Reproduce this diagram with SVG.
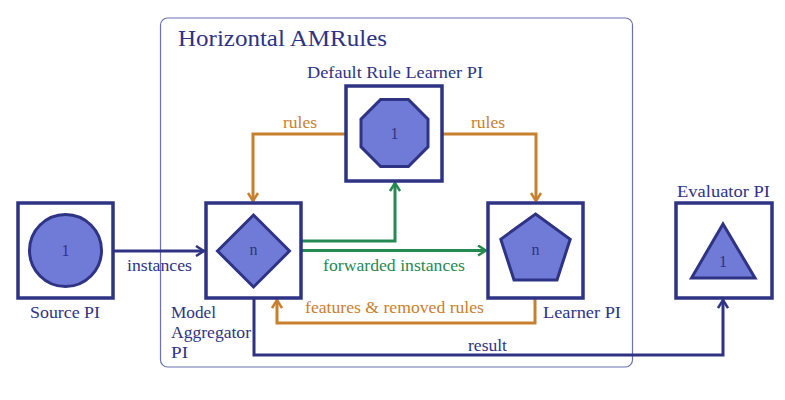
<svg xmlns="http://www.w3.org/2000/svg" width="785" height="400" viewBox="0 0 785 400" font-family="'Liberation Serif','DejaVu Serif',serif">
<defs>
<style>
.box{fill:#fff;stroke:#2e3384;stroke-width:3.5}
.shape{fill:#6f7bd6;stroke:#2e3384;stroke-width:3;stroke-linejoin:miter}
.t{font-family:'Liberation Serif','DejaVu Serif',serif;fill:#2e3384}
.lbl{font-size:17px}
.inner{font-size:16px;text-anchor:middle;dominant-baseline:central}
.c{fill:none;stroke-width:3;stroke-linejoin:miter}
.navy{stroke:#2e3384}
.org{stroke:#c8802f}
.grn{stroke:#258a52}
.to{fill:#c8802f}
.tg{fill:#258a52}
</style>
<marker id="an" viewBox="0 0 10 12" refX="9" refY="6" markerWidth="10" markerHeight="12" markerUnits="userSpaceOnUse" orient="auto">
<path d="M1,1 L9,6 L1,11" fill="none" stroke="#2e3384" stroke-width="2.5"/>
</marker>
<marker id="ao" viewBox="0 0 10 12" refX="9" refY="6" markerWidth="10" markerHeight="12" markerUnits="userSpaceOnUse" orient="auto">
<path d="M1,1 L9,6 L1,11" fill="none" stroke="#c8802f" stroke-width="2.5"/>
</marker>
<marker id="ag" viewBox="0 0 10 12" refX="9" refY="6" markerWidth="10" markerHeight="12" markerUnits="userSpaceOnUse" orient="auto">
<path d="M1,1 L9,6 L1,11" fill="none" stroke="#258a52" stroke-width="2.5"/>
</marker>
</defs>
<rect width="785" height="400" fill="#fff"/>

<g id="container">
<rect x="160.5" y="18" width="472" height="349" rx="7" fill="none" stroke="#6b70b0" stroke-width="1.2"/>
<text class="t" x="178" y="46" font-size="24" textLength="209" lengthAdjust="spacingAndGlyphs">Horizontal AMRules</text>
</g>

<g id="connectors">
<path class="c navy" d="M113,251 H204" marker-end="url(#an)"/>
<text class="t lbl" x="127" y="271" textLength="65" lengthAdjust="spacingAndGlyphs">instances</text>
<path class="c org" d="M346,134 H253 V201" marker-end="url(#ao)"/>
<text class="t lbl to" x="283" y="128" textLength="34" lengthAdjust="spacingAndGlyphs">rules</text>
<path class="c org" d="M442,134 H536 V201" marker-end="url(#ao)"/>
<text class="t lbl to" x="471" y="128" textLength="34" lengthAdjust="spacingAndGlyphs">rules</text>
<path class="c grn" d="M301,241 H395 V183" marker-end="url(#ag)"/>
<path class="c grn" d="M301,250.5 H486" marker-end="url(#ag)"/>
<text class="t lbl tg" x="323" y="271" textLength="142" lengthAdjust="spacingAndGlyphs">forwarded instances</text>
<path class="c org" d="M535,298 V323 H277 V300" marker-end="url(#ao)"/>
<text class="t lbl to" x="305" y="313" textLength="179" lengthAdjust="spacingAndGlyphs">features &amp; removed rules</text>
<path class="c navy" d="M254,298 V355 H723 V300" marker-end="url(#an)"/>
<text class="t lbl" x="468" y="351" textLength="39" lengthAdjust="spacingAndGlyphs">result</text>
</g>

<g id="source">
<rect class="box" x="18" y="203" width="95" height="95"/>
<circle class="shape" cx="65.5" cy="250.5" r="36"/>
<text class="t inner" x="65.5" y="250.5">1</text>
<text class="t lbl" x="30" y="318" textLength="70" lengthAdjust="spacingAndGlyphs">Source PI</text>
</g>

<g id="aggregator">
<rect class="box" x="206" y="203" width="95" height="95"/>
<polygon class="shape" points="253.5,215 289.5,251 253.5,287 217.5,251"/>
<text class="t inner" x="253.5" y="249">n</text>
<text class="t lbl" x="171" y="318" textLength="45" lengthAdjust="spacingAndGlyphs">Model</text>
<text class="t lbl" x="171" y="338" textLength="80" lengthAdjust="spacingAndGlyphs">Aggregator</text>
<text class="t lbl" x="171" y="358" textLength="17" lengthAdjust="spacingAndGlyphs">PI</text>
</g>

<g id="default">
<rect class="box" x="346" y="86" width="96" height="95"/>
<polygon class="shape" points="380.6,99.5 408.4,99.5 428,119.1 428,146.9 408.4,166.5 380.6,166.5 361,146.9 361,119.1"/>
<text class="t inner" x="394.5" y="133">1</text>
<text class="t lbl" x="307" y="78" textLength="176" lengthAdjust="spacingAndGlyphs">Default Rule Learner PI</text>
</g>

<g id="learner">
<rect class="box" x="488" y="203" width="95" height="95"/>
<polygon class="shape" points="535.5,214 570.2,239.2 557,280 514,280 500.8,239.2"/>
<text class="t inner" x="535.5" y="249">n</text>
<text class="t lbl" x="543" y="318" textLength="78" lengthAdjust="spacingAndGlyphs">Learner PI</text>
</g>

<g id="evaluator">
<rect class="box" x="676" y="203" width="96" height="95"/>
<polygon class="shape" points="723,224 755,278 691.5,278"/>
<text class="t inner" x="723" y="261">1</text>
<text class="t lbl" x="677" y="197" textLength="93" lengthAdjust="spacingAndGlyphs">Evaluator PI</text>
</g>
</svg>
